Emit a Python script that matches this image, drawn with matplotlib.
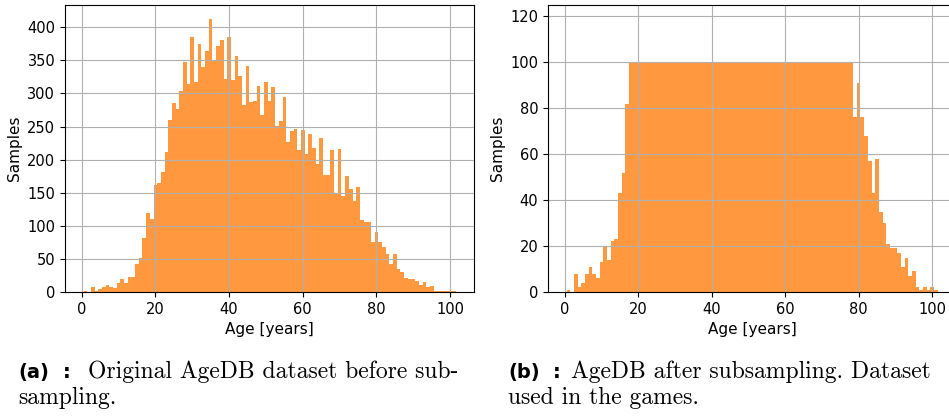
import numpy as np
import matplotlib.pyplot as plt

# age bins (years) and sample counts
ages = np.arange(1, 102)
counts_orig = [
    1, 0, 8, 2, 4, 8, 11, 8, 6, 13,
    20, 14, 22, 23, 43, 52, 82, 119, 110, 162,
    164, 182, 212, 260, 285, 276, 304, 347, 314, 386,
    318, 375, 340, 364, 413, 349, 371, 381, 322, 386,
    320, 356, 326, 282, 341, 287, 288, 312, 268, 318,
    288, 310, 251, 259, 295, 227, 244, 247, 214, 245,
    208, 239, 218, 194, 232, 177, 177, 215, 150, 216,
    145, 176, 156, 138, 159, 109, 105, 106, 76, 91,
    76, 68, 57, 43, 58, 35, 30, 21, 19, 19,
    17, 11, 15, 7, 9, 2, 1, 2, 1, 2,
    1]
counts_sub = [
    1, 0, 8, 2, 4, 8, 11, 8, 6, 13,
    20, 14, 22, 23, 43, 52, 82, 100, 100, 100,
    100, 100, 100, 100, 100, 100, 100, 100, 100, 100,
    100, 100, 100, 100, 100, 100, 100, 100, 100, 100,
    100, 100, 100, 100, 100, 100, 100, 100, 100, 100,
    100, 100, 100, 100, 100, 100, 100, 100, 100, 100,
    100, 100, 100, 100, 100, 100, 100, 100, 100, 100,
    100, 100, 100, 100, 100, 100, 100, 100, 76, 91,
    76, 68, 57, 43, 58, 35, 30, 21, 19, 19,
    17, 11, 15, 7, 9, 2, 1, 2, 1, 2,
    1]
xticks = [0, 20, 40, 60, 80, 100]
yticks_a = np.arange(0, 401, 50)
yticks_b = np.arange(0, 121, 20)

bins = np.arange(0.5, 102.5, 1)

fig = plt.figure(figsize=(9.49, 4.16), dpi=100)
ax1 = fig.add_axes([0.0684, 0.2981, 0.4314, 0.6899])
ax2 = fig.add_axes([0.5774, 0.2981, 0.4302, 0.6899])

for ax, counts, yt in [(ax1, counts_orig, yticks_a), (ax2, counts_sub, yticks_b)]:
    ax.hist(ages, bins=bins, weights=counts, color='C1', alpha=0.8)
    ax.grid(True)
    ax.set_xticks(xticks)
    ax.set_yticks(yt)
    ax.set_xlabel('Age [years]', fontsize=11)
    ax.set_ylabel('Samples', fontsize=11)
    ax.tick_params(axis='both', labelsize=10.5)

ax2.set_ylim(0, 125)

# captions
W, H = 949, 416
def cap(x, y, s, **kw):
    fig.text(x / W, 1 - y / H, s, va='baseline', ha='left', **kw)

cap(18, 378, '(a)', fontsize=14, fontweight='bold', family='DejaVu Sans')
cap(63, 378, ':', fontsize=14, fontweight='bold', family='DejaVu Sans')
cap(88, 378, 'Original AgeDB dataset before sub-', fontsize=17, family='cmr10')
cap(18, 404, 'sampling.', fontsize=17, family='cmr10')
cap(508, 378, '(b)', fontsize=14, fontweight='bold', family='DejaVu Sans')
cap(553, 378, ':', fontsize=14, fontweight='bold', family='DejaVu Sans')
cap(571, 378, 'AgeDB after subsampling. Dataset', fontsize=17, family='cmr10')
cap(508, 404, 'used in the games.', fontsize=17, family='cmr10')

fig.savefig('out.png', dpi=100)
